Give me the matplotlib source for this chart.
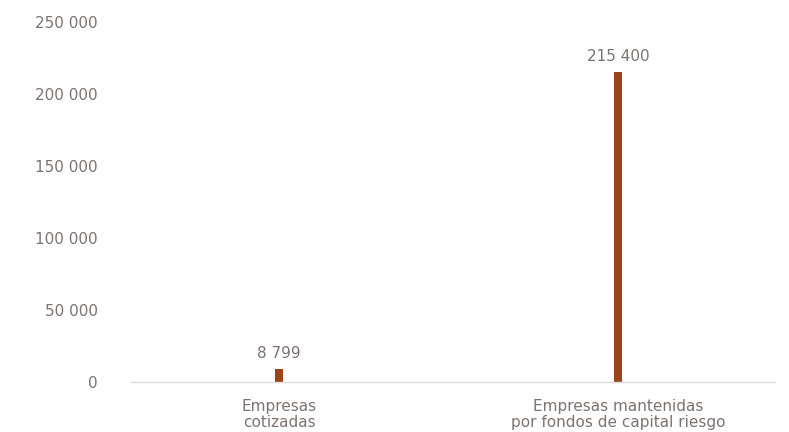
import matplotlib.pyplot as plt

# Data
categories = ['Empresas\ncotizadas', 'Empresas mantenidas\npor fondos de capital riesgo']
values = [8799, 215400]
value_labels = ['8 799', '215 400']
yticks = [0, 50000, 100000, 150000, 200000, 250000]
ytick_labels = ['0', '50 000', '100 000', '150 000', '200 000', '250 000']

text_color = '#7d7370'
bar_color = '#9c4419'

plt.rcParams['font.family'] = ['DejaVu Sans']

fig = plt.figure(figsize=(7.89, 4.32), dpi=100)
ax = fig.add_axes([0.166, 0.1157, 0.816, 0.8333])

x = list(range(len(categories)))
ax.bar(x, values, width=0.024, color=bar_color)

for xi, v, lab in zip(x, values, value_labels):
    ax.annotate(lab, (xi, v), xytext=(0, 6), textcoords='offset points',
                ha='center', va='bottom', fontsize=11, color=text_color)

ax.set_xlim(-0.437, 1.463)
ax.set_ylim(0, 250000)
ax.set_yticks(yticks)
ax.set_yticklabels(ytick_labels)
ax.set_xticks(x)
ax.set_xticklabels(categories, linespacing=1.12)

ax.tick_params(axis='y', length=0, pad=24, labelsize=11, labelcolor=text_color)
ax.tick_params(axis='x', length=0, pad=12, labelsize=11, labelcolor=text_color)

for side in ['top', 'right', 'left']:
    ax.spines[side].set_visible(False)
ax.spines['bottom'].set_color('#dddddd')
ax.spines['bottom'].set_linewidth(1)

plt.savefig('out.png', dpi=100)
plt.close()
